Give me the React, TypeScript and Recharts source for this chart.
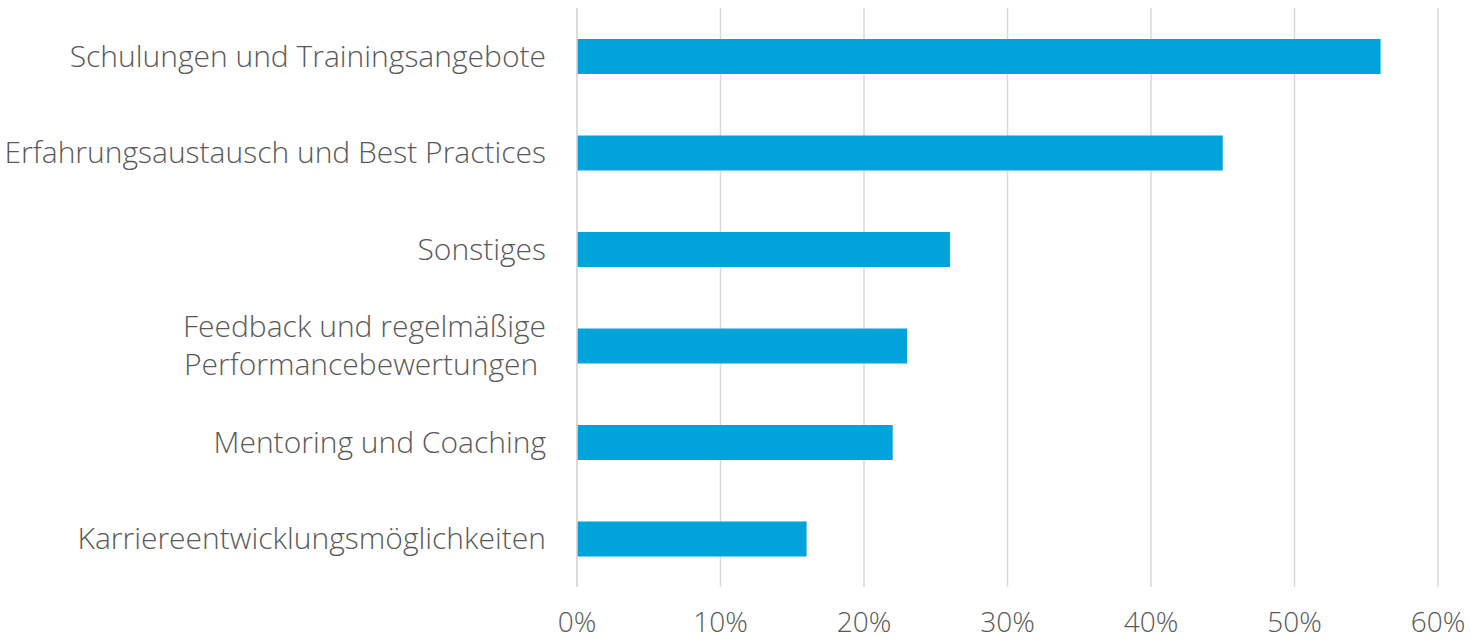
import { BarChart, Bar, XAxis, YAxis, CartesianGrid } from 'recharts'

const categories = [
  'Schulungen und Trainingsangebote',
  'Erfahrungsaustausch und Best Practices',
  'Sonstiges',
  'Feedback und regelmäßige\nPerformancebewertungen ',
  'Mentoring und Coaching',
  'Karriereentwicklungsmöglichkeiten',
]
const shares = [56, 45, 26, 23, 22, 16]
const xTicks = [0, 10, 20, 30, 40, 50, 60]

const data = categories.map((name, i) => ({ name, value: shares[i] }))

const FONT = '"Open Sans", sans-serif'
const TEXT = '#595959'

function CategoryTick(props: any) {
  const { x, y, payload } = props
  const lines = String(payload.value).split('\n')
  const lh = 38
  const start = -((lines.length - 1) * lh) / 2
  return (
    <text x={x} y={y} textAnchor="end" fill={TEXT} fontFamily={FONT} fontWeight={300} fontSize={30} style={{ whiteSpace: 'pre' }}>
      {lines.map((l, i) => (
        <tspan key={i} x={x} y={y + start + i * lh} dy="0.35em">{l}</tspan>
      ))}
    </text>
  )
}

export default function App() {
  return (
    <div style={{ position: 'absolute', left: 0, top: 0, width: 1470, height: 643, background: '#fff' }}>
      <BarChart width={1470} height={643} data={data} layout="vertical" margin={{ top: 8, right: 32, bottom: 0, left: 0 }}>
        <CartesianGrid horizontal={false} stroke="#D9D9D9" strokeWidth={1.5} />
        <XAxis
          type="number"
          domain={[0, 60]}
          ticks={xTicks}
          tickFormatter={(v) => `${v}%`}
          axisLine={false}
          tickLine={false}
          height={56}
          tick={{ fill: TEXT, fontFamily: FONT, fontWeight: 300, fontSize: 28, dy: 17 }}
          interval={0}
        />
        <YAxis
          type="category"
          dataKey="name"
          width={577}
          axisLine={{ stroke: '#D9D9D9', strokeWidth: 1.5 }}
          tickLine={false}
          tickMargin={25}
          tick={<CategoryTick />}
          interval={0}
        />
        <Bar dataKey="value" fill="#00A3DA" barSize={35} isAnimationActive={false} />
      </BarChart>
    </div>
  )
}
